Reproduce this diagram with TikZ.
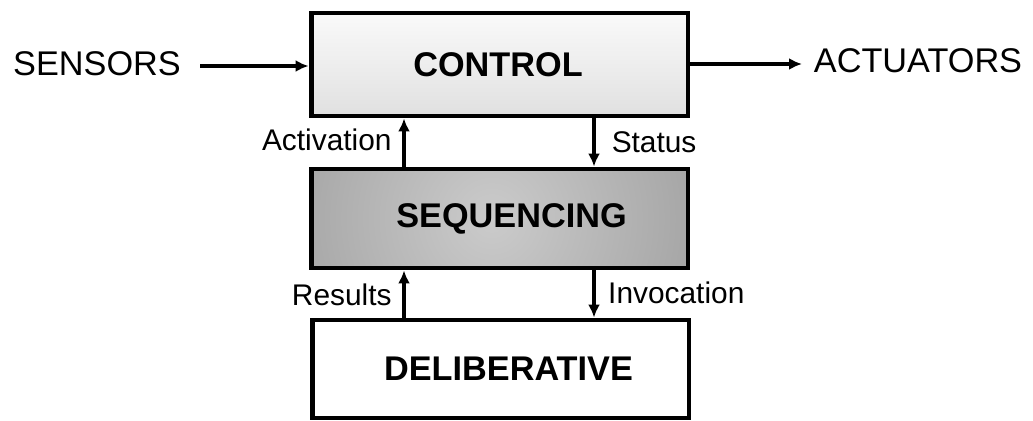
\documentclass[tikz,border=0pt]{standalone}
\usepackage{fontspec}
\setmainfont{Liberation Sans}
\usetikzlibrary{shapes,arrows.meta}
\definecolor{glowin}{HTML}{CBCBCB}
\definecolor{glowout}{HTML}{828282}
\pgfdeclareradialshading{seqglow}{\pgfpoint{0bp}{0bp}}{color(0bp)=(glowin); color(50bp)=(glowout)}
\tikzset{
	layer/.style    = {draw, line width=2.8pt, rectangle, minimum width=7.54cm,
		font=\fontsize{19.5}{22}\selectfont\bfseries},
	ctrl/.style     = {layer, minimum height=2.06cm, top color=gray!4, bottom color=gray!24},
	seq/.style      = {layer, minimum height=1.98cm, fill=gray,
		path picture={\shade[shading=seqglow] ([xshift=-0.16cm]path picture bounding box.center) circle (4cm);}},
	delib/.style    = {layer, minimum height=1.96cm, fill=white},
	io/.style       = {font=\fontsize{19.5}{22}\selectfont, inner sep=0pt},
	tag/.style      = {font=\fontsize{17}{20}\selectfont, inner sep=0pt},
	link/.style     = {line width=2.2pt}
}

\begin{document}
\begin{tikzpicture}[x=0.02cm, y=-0.02cm, >={Latex[length=2.6mm,width=2.4mm]}]
	\useasboundingbox (0,0) rectangle (1033,420);
	\draw
	node at (499.5,64.5)[ctrl] (control) {\hspace*{-0.06cm}CONTROL}
	node at (499.5,218.5)[seq] (sequencing) {\hspace*{0.48cm}SEQUENCING}
	node at (500.5,369)[delib] (deliberative) {\hspace*{0.32cm}DELIBERATIVE};

	\node at (97,64)[io] (sensors) {SENSORS};
	\node at (918,61)[io] (actuators) {ACTUATORS};
	\coordinate (sin) at (200,66);
	\coordinate (aout) at (802,64);

	\draw[->, link] (sin) -- (sin -| control.west);
	\draw[->, link] (control.east |- aout) -- (aout);

	% between the layers
	\draw[->, link] (sequencing.north -| 404,0) -- node[tag, left=6pt, pos=0.55] (activation) {Activation} (control.south -| 404,0);
	\draw[->, link] (control.south -| 594,0) -- node[tag, right=9pt, pos=0.49] (status) {Status} (sequencing.north -| 594,0);
	\draw[->, link] (deliberative.north -| 404,0) -- node[tag, left=6pt, pos=0.48] (results) {Results} (sequencing.south -| 404,0);
	\draw[->, link] (sequencing.south -| 594,0) -- node[tag, right=7pt, pos=0.48] (invocation) {Invocation} (deliberative.north -| 594,0);
\end{tikzpicture}
\end{document}
